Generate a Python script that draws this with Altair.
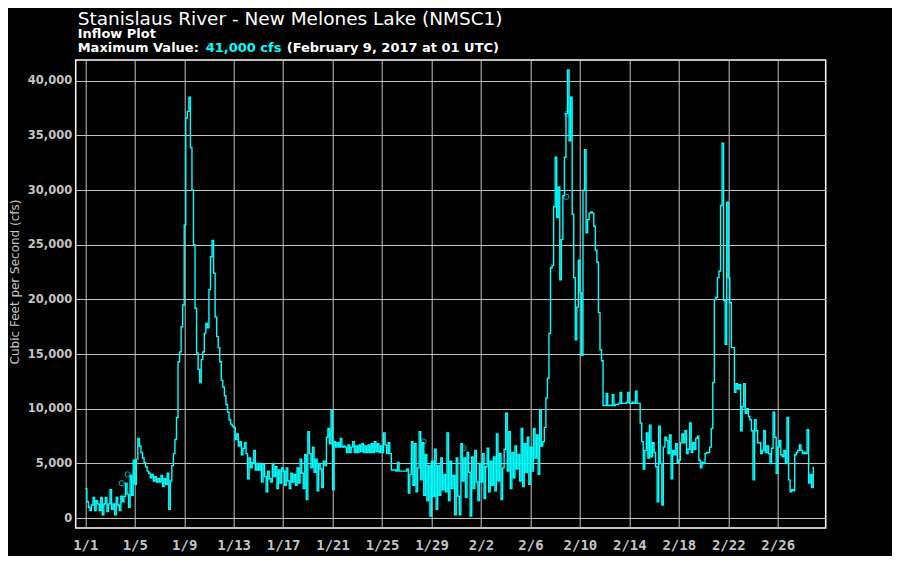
import altair as alt
import pandas as pd

# Inflow (cfs), 3-hourly readings, one row of 8 values per day
week1 = [2700, 1500, 1000, 700, 1200, 1900, 700, 1600,      # 1/1
         1300, 700, 1900, 300, 1300, 1900, 600, 1300,       # 1/2
         2600, 800, 1300, 300, 1900, 1200, 700, 2000,       # 1/3
         1500, 2000, 3200, 2200, 1000, 3900, 2100, 5300,    # 1/4
         3100, 5400, 7300, 6600, 6000, 5500, 5100, 4700,    # 1/5
         4300, 4100, 3700, 4000, 3400, 3800, 3300, 3600,    # 1/6
         3300, 3900, 2900, 3600, 3100, 4100, 800, 3400]     # 1/7
week2 = [4800, 5900, 7200, 9200, 14300, 15200, 17500, 19500,      # 1/8
         26800, 36600, 37200, 38500, 33900, 30000, 25000, 19200,  # 1/9
         15100, 13600, 12400, 14500, 15200, 16900, 17800, 17400,  # 1/10
         20900, 23900, 25400, 22400, 18400, 16600, 15600, 14300,  # 1/11
         12600, 12000, 11200, 10400, 9700, 9000, 8600, 8400,      # 1/12
         8300, 7200, 7700, 6600, 7000, 5800, 6400, 6900,          # 1/13
         5900, 3600, 5500, 4600, 5100, 6200, 4400, 5000]          # 1/14
week3 = [4400, 5000, 3300, 4900, 3800, 2400, 4300, 3600,    # 1/15
         3300, 5000, 3800, 4700, 2700, 4400, 3200, 4600,    # 1/16
         4300, 3000, 4600, 3400, 2700, 4100, 3300, 4000,    # 1/17
         3000, 4600, 3200, 5400, 4100, 2700, 5800, 1700,    # 1/18
         7900, 5900, 4600, 6500, 4200, 5400, 2500, 5000,    # 1/19
         4500, 2800, 5200, 4800, 7400, 8200, 6800, 9900,    # 1/20
         2600, 7000, 6500, 6900, 6500, 7300, 6500, 6600]    # 1/21
week4 = [6500, 6000, 6700, 6000, 6500, 7000, 6000, 6600,    # 1/22
         6000, 6700, 6100, 6800, 6000, 6600, 6000, 6700,    # 1/23
         6000, 6800, 6000, 7000, 6100, 6800, 6000, 6600,    # 1/24
         6000, 7800, 6700, 5900, 6900, 5900, 4400, 4400,    # 1/25
         4400, 4300, 5100, 4300, 4300, 4300, 4300, 4300,    # 1/26
         4500, 2300, 4000, 7000, 3000, 6800, 2400, 4600,    # 1/27
         7900, 3500, 6900, 2100, 5800, 1600, 4800, 200]     # 1/28
week5 = [5200, 2000, 6300, 800, 4800, 2100, 5500, 2600,     # 1/29
         4000, 2400, 7800, 1600, 5200, 2700, 3900, 300,     # 1/30
         5500, 2000, 300, 6800, 3400, 5500, 1900, 6000,     # 1/31
         4200, 200, 5600, 2700, 6200, 3300, 1600, 5000,     # 2/1
         3300, 5900, 1800, 4700, 6400, 2400, 5200, 3000,    # 2/2
         5600, 2500, 7700, 3400, 5900, 1700, 4600, 6300,    # 2/3
         9600, 4300, 7900, 2700, 6000, 3700, 6600, 4500]    # 2/4
week6 = [5800, 3400, 8200, 2900, 6800, 4200, 7400, 3100,          # 2/5
         6500, 4300, 8200, 5500, 7600, 4000, 9900, 6600,          # 2/6
         7000, 8300, 11000, 12800, 16900, 22900, 23100, 28500,    # 2/7
         33000, 27500, 30300, 21800, 25500, 29500, 33000, 37000,  # 2/8
         41000, 34500, 38500, 27800, 22000, 16300, 19300, 23600,  # 2/9
         20600, 14900, 30000, 33700, 26100, 27300, 27900, 28000,  # 2/10
         27900, 26700, 24500, 23400, 18800, 15400, 14400, 10300]  # 2/11
week7 = [10300, 11400, 10300, 10300, 10300, 11300, 10300, 10400,  # 2/12
         10400, 10500, 11500, 10500, 10500, 10500, 10600, 11500,  # 2/13
         10500, 10500, 10600, 10500, 11600, 10500, 10500, 8700,   # 2/14
         7000, 4500, 6200, 7800, 5500, 8500, 5600, 6900,          # 2/15
         6000, 4700, 1500, 8400, 5000, 1200, 6500, 7400,          # 2/16
         7100, 5900, 7600, 3600, 6200, 5800, 6800, 5100,          # 2/17
         5300, 6900, 7700, 6900, 8000, 5900, 6300, 8700]          # 2/18
week8 = [6000, 6900, 6300, 7300, 7500, 5300, 4600, 5100,          # 2/19
         5000, 5900, 6000, 6000, 6500, 8200, 12400, 20000,        # 2/20
         20200, 22000, 22600, 28600, 34300, 19900, 15900, 28900,  # 2/21
         22000, 19700, 15600, 15600, 11500, 12300, 11800, 12200,  # 2/22
         8000, 10200, 12300, 9600, 10000, 9300, 9000, 8000,       # 2/23
         3500, 9000, 8000, 6900, 6900, 5900, 6200, 8000,          # 2/24
         6000, 6600, 5900, 5000, 6400, 9700, 7400, 4100]          # 2/25
week9 = [6500, 7100, 5800, 5600, 6200, 5000, 9200, 3500,    # 2/26
         2400, 2600, 2500, 5800, 6000, 6200, 6700, 6200,    # 2/27
         5900, 6000, 5900, 8100, 3200, 4000, 2800, 4700]    # 2/28

# isolated readings drawn as small open circles
circle_times = ["2017-01-03T22:40:00", "2017-01-04T10:25:00", "2017-01-28T08:30:00",
                "2017-01-31T14:00:00", "2017-02-08T21:30:00", "2017-02-08T23:30:00"]
circle_values = [3200, 4000, 7000, 6400, 29400, 37000]

tick_days = [(1, 1), (1, 5), (1, 9), (1, 13), (1, 17), (1, 21), (1, 25), (1, 29),
             (2, 2), (2, 6), (2, 10), (2, 14), (2, 18), (2, 22), (2, 26)]
y_ticks = [0, 5000, 10000, 15000, 20000, 25000, 30000, 35000, 40000]

title_main = "Stanislaus River - New Melones Lake (NMSC1)"
title_sub = "Inflow Plot"
max_prefix = "Maximum Value:"
max_value = "41,000 cfs"
max_suffix = "(February 9, 2017 at 01 UTC)"
y_title = "Cubic Feet per Second (cfs)"

series = week1 + week2 + week3 + week4 + week5 + week6 + week7 + week8 + week9
times = pd.date_range("2017-01-01", periods=len(series), freq="3h").strftime("%Y-%m-%dT%H:%M:%S").tolist()
df = pd.DataFrame({"time": times, "cfs": series})
dfc = pd.DataFrame({"time": circle_times, "cfs": circle_values})

CYAN = "#00ffff"
GRAY = "#c4c4c4"

xscale = alt.Scale(domain=[alt.DateTime(year=2016, month=12, date=31, hours=5, minutes=22),
                           alt.DateTime(year=2017, month=3, date=1, hours=21, minutes=7)])
yscale = alt.Scale(domain=[-900, 41900], nice=False, zero=False)

xaxis = alt.Axis(values=[alt.DateTime(year=2017, month=m, date=d) for m, d in tick_days],
                 format="%-m/%-d", title=None, labelFont="DejaVu Sans Mono", labelFontWeight="bold",
                 labelFontSize=14, labelColor=GRAY, labelPadding=11, ticks=False, domain=False,
                 grid=True, gridColor=GRAY, gridWidth=1)
yaxis = alt.Axis(values=y_ticks, format=",d", title=None, labelFont="DejaVu Sans",
                 labelFontWeight="bold", labelFontSize=11.5, labelColor=GRAY, labelPadding=4,
                 ticks=False, domain=False, grid=True, gridColor=GRAY, gridWidth=1)

line = alt.Chart(df).mark_line(interpolate="step-after", color=CYAN, strokeWidth=1.4).encode(
    x=alt.X("time:T", scale=xscale, axis=xaxis),
    y=alt.Y("cfs:Q", scale=yscale, axis=yaxis),
)
circles = alt.Chart(dfc).mark_point(shape="circle", filled=False, color=CYAN, size=28, strokeWidth=1).encode(
    x=alt.X("time:T", scale=xscale),
    y=alt.Y("cfs:Q", scale=yscale),
)


def label(text, x, y, size, color, weight="normal", angle=0, align="left", baseline="alphabetic"):
    return alt.Chart(pd.DataFrame({"t": [text]})).mark_text(
        font="DejaVu Sans", fontSize=size, fontWeight=weight, color=color, align=align,
        baseline=baseline, angle=angle
    ).encode(x=alt.value(x), y=alt.value(y), text="t:N")


texts = [
    label(title_main, 2, -35, 18.5, "white"),
    label(title_sub, 2, -22, 13, "white", "bold"),
    label(max_prefix, 2, -8.5, 13, "white", "bold"),
    label(max_value, 130, -8.5, 13, CYAN, "bold"),
    label(max_suffix, 211, -8.5, 13, "white", "bold"),
    label(y_title, -61, 222, 12, GRAY, angle=270, align="center", baseline="middle"),
]

chart = alt.layer(line, circles, *texts).properties(
    width=750, height=468,
    autosize=alt.AutoSizeParams(type="none"),
    padding={"left": 67.7, "top": 52, "right": 66, "bottom": 28},
    background="black",
).configure_view(stroke="white", strokeWidth=1.5)

chart.save("out.html", embed_options={"renderer": "svg", "actions": False})
